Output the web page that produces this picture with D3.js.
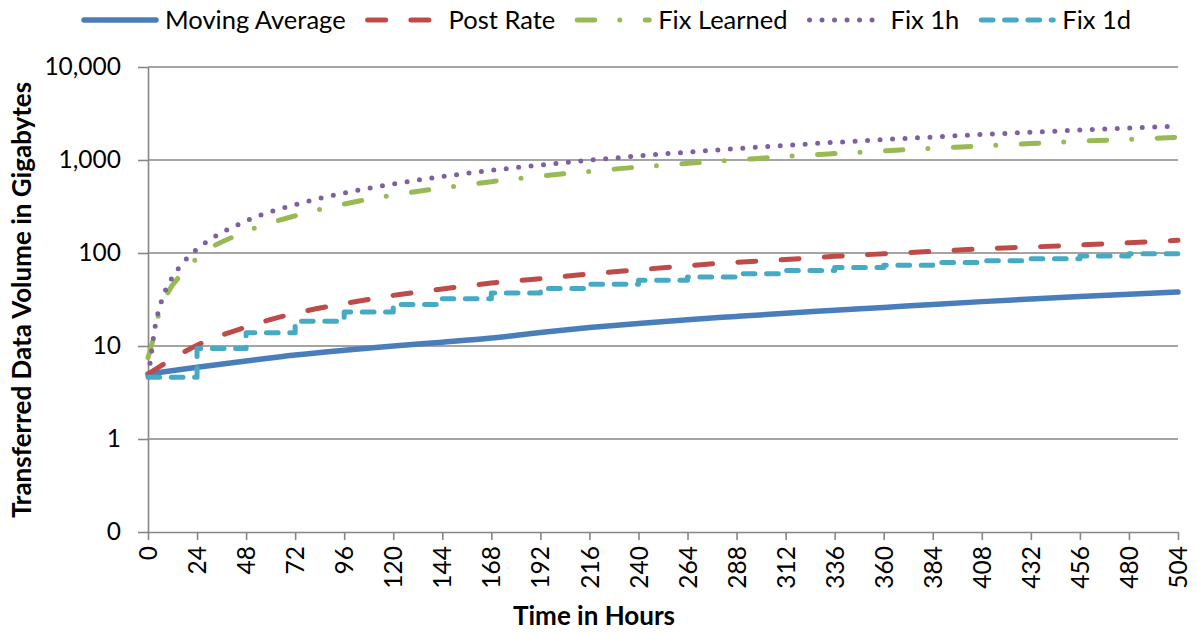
<!DOCTYPE html>
<html>
<head>
<meta charset="utf-8">
<script src="https://cdn.jsdelivr.net/npm/d3@7"></script>
<style>
  html, body { margin: 0; padding: 0; background: #fff; }
  svg { display: block; font-family: Lato, "Open Sans", sans-serif; }
</style>
</head>
<body>
<svg id="chart" width="1197" height="633"></svg>
<script>
// Axis ticks
const xTickHours = [0, 24, 48, 72, 96, 120, 144, 168, 192, 216, 240, 264, 288, 312, 336, 360, 384, 408, 432, 456, 480, 504];
const yTickValues = [0.1, 1, 10, 100, 1000, 10000];
const yTickLabels = ["0", "1", "10", "100", "1,000", "10,000"];

// Series names and colours
const seriesNames = ["Moving Average", "Post Rate", "Fix Learned", "Fix 1h", "Fix 1d"];
const seriesColors = ["#4A7EBB", "#BE4B48", "#98B954", "#7D60A0", "#46AAC5"];

// Daily sample hours
const dayHours = [0, 24, 48, 72, 96, 120, 144, 168, 192, 216, 240, 264, 288, 312, 336, 360, 384, 408, 432, 456, 480, 504];

// Transferred volume (GB)
const movingAverage = [5.0, 5.9, 6.9, 8.0, 9.0, 10.0, 11.0, 12.2, 14.0, 15.8, 17.5, 19.2, 20.8, 22.5, 24.2, 26.0, 28.0, 30.0, 32.0, 34.0, 36.0, 38.0];
const postRate = [5.0, 10.2, 16, 22.5, 28.5, 35, 41, 47.5, 53, 59.5, 66, 73, 79.5, 85, 92, 98, 104, 111, 116, 122, 129, 137];

const fixLearnedHours = [0, 3, 5, 10, 16, 24, 48, 72, 96, 120, 144, 168, 192, 216, 240, 264, 288, 312, 336, 360, 384, 408, 432, 456, 480, 504];
const fixLearned = [7.5, 13, 21, 38.5, 58, 88, 170, 251, 336, 420, 500, 585, 672, 755, 840, 920, 1000, 1090, 1172, 1253, 1336, 1415, 1503, 1592, 1668, 1755];

const fix1hHours = [0, 1, 2, 3, 4, 6, 8, 12, 16, 20, 24, 48, 72, 96, 120, 144, 168, 192, 216, 240, 264, 288, 312, 336, 360, 384, 408, 432, 456, 480, 504];
const fix1h = [4.8, 6.5, 9.5, 14, 18.5, 27.5, 37, 55, 73.5, 92, 110, 221, 331, 442, 552, 663, 773, 884, 995, 1105, 1215, 1326, 1437, 1548, 1658, 1768, 1879, 1990, 2100, 2210, 2320];

// Daily fixed steps: value held from each listed hour until the next
const fix1d = [4.6, 9.4, 13.9, 18.5, 23.2, 28, 32.3, 37.2, 41.5, 46, 51, 55.3, 60, 65, 69.8, 74, 79, 82.5, 87, 93, 98, 98];

const svg = d3.select("#chart");
const grid = "#868686";
const tickFont = 24.5;
const legendFont = 25.5;
const titleFont = 26;

const x = d3.scaleLinear().domain([0, 504]).range([148, 1178]);
const y = d3.scaleLog().domain([0.1, 10000]).range([532, 67]);

// Horizontal gridlines
svg.append("g")
  .selectAll("line")
  .data(yTickValues.slice(1))
  .join("line")
  .attr("x1", x(0)).attr("x2", x(504))
  .attr("y1", d => y(d)).attr("y2", d => y(d))
  .attr("stroke", grid).attr("stroke-width", 1.6);

// Y axis
const yAxis = svg.append("g")
  .attr("transform", `translate(${x(0)},0)`)
  .call(d3.axisLeft(y).tickValues(yTickValues)
    .tickFormat((d, i) => yTickLabels[i]).tickSize(10).tickSizeOuter(0).tickPadding(17));
yAxis.select(".domain").attr("stroke", grid).attr("stroke-width", 1.6);
yAxis.selectAll(".tick line").attr("stroke", grid).attr("stroke-width", 1.6);
yAxis.selectAll(".tick text").attr("font-size", tickFont).attr("fill", "#000")
  .style("font-family", "Lato, sans-serif");

// X axis
const xAxis = svg.append("g")
  .attr("transform", `translate(0,${y(0.1)})`)
  .call(d3.axisBottom(x).tickValues(xTickHours).tickSize(8).tickSizeOuter(0));
xAxis.select(".domain").attr("stroke", grid).attr("stroke-width", 1.6);
xAxis.selectAll(".tick line").attr("stroke", grid).attr("stroke-width", 1.6);
xAxis.selectAll(".tick text")
  .attr("font-size", tickFont).attr("fill", "#000")
  .style("font-family", "Lato, sans-serif")
  .attr("transform", "rotate(-90)")
  .attr("x", -14).attr("y", 0).attr("dy", "0.35em")
  .style("text-anchor", "end");

// Axis titles
svg.append("text")
  .attr("transform", "translate(31,300) rotate(-90)")
  .attr("text-anchor", "middle")
  .attr("font-size", titleFont).attr("font-weight", "bold")
  .text("Transferred Data Volume in Gigabytes");
svg.append("text")
  .attr("x", 594).attr("y", 625)
  .attr("text-anchor", "middle")
  .attr("font-size", titleFont).attr("font-weight", "bold")
  .text("Time in Hours");

// Line styles per series
const styles = [
  { width: 5.5, dash: null },
  { width: 5, dash: "18,25.3" },
  { width: 5, dash: "17.5,25,0,25.5" },
  { width: 5, dash: "0,12.5" },
  { width: 5, dash: "11.7,11.6" }
];

const smooth = d3.line().x(d => x(d[0])).y(d => y(d[1])).curve(d3.curveMonotoneX);
const stepped = d3.line().x(d => x(d[0])).y(d => y(d[1])).curve(d3.curveStepAfter);

const series = [
  { pts: d3.zip(dayHours, movingAverage), gen: smooth },
  { pts: d3.zip(dayHours, postRate), gen: smooth },
  { pts: d3.zip(fixLearnedHours, fixLearned), gen: smooth },
  { pts: d3.zip(fix1hHours, fix1h), gen: smooth },
  { pts: d3.zip(dayHours, fix1d), gen: stepped }
];

const plot = svg.append("g");
series.forEach((s, i) => {
  plot.append("path")
    .attr("d", s.gen(s.pts))
    .attr("fill", "none")
    .attr("stroke", seriesColors[i])
    .attr("stroke-width", styles[i].width)
    .attr("stroke-linecap", "round")
    .attr("stroke-linejoin", "round")
    .attr("stroke-dasharray", styles[i].dash);
});

// Legend
const legend = svg.append("g");
let lx = 84;
const ly = 20;
seriesNames.forEach((name, i) => {
  legend.append("path")
    .attr("d", `M${lx},${ly}H${lx + 72}`)
    .attr("fill", "none")
    .attr("stroke", seriesColors[i])
    .attr("stroke-width", styles[i].width)
    .attr("stroke-linecap", "round")
    .attr("stroke-dasharray", styles[i].dash);
  const t = legend.append("text")
    .attr("x", lx + 81).attr("y", ly).attr("dy", "0.35em")
    .attr("font-size", legendFont).attr("fill", "#000")
    .text(name);
  lx += 81 + t.node().getComputedTextLength() + 22;
});
</script>
</body>
</html>
